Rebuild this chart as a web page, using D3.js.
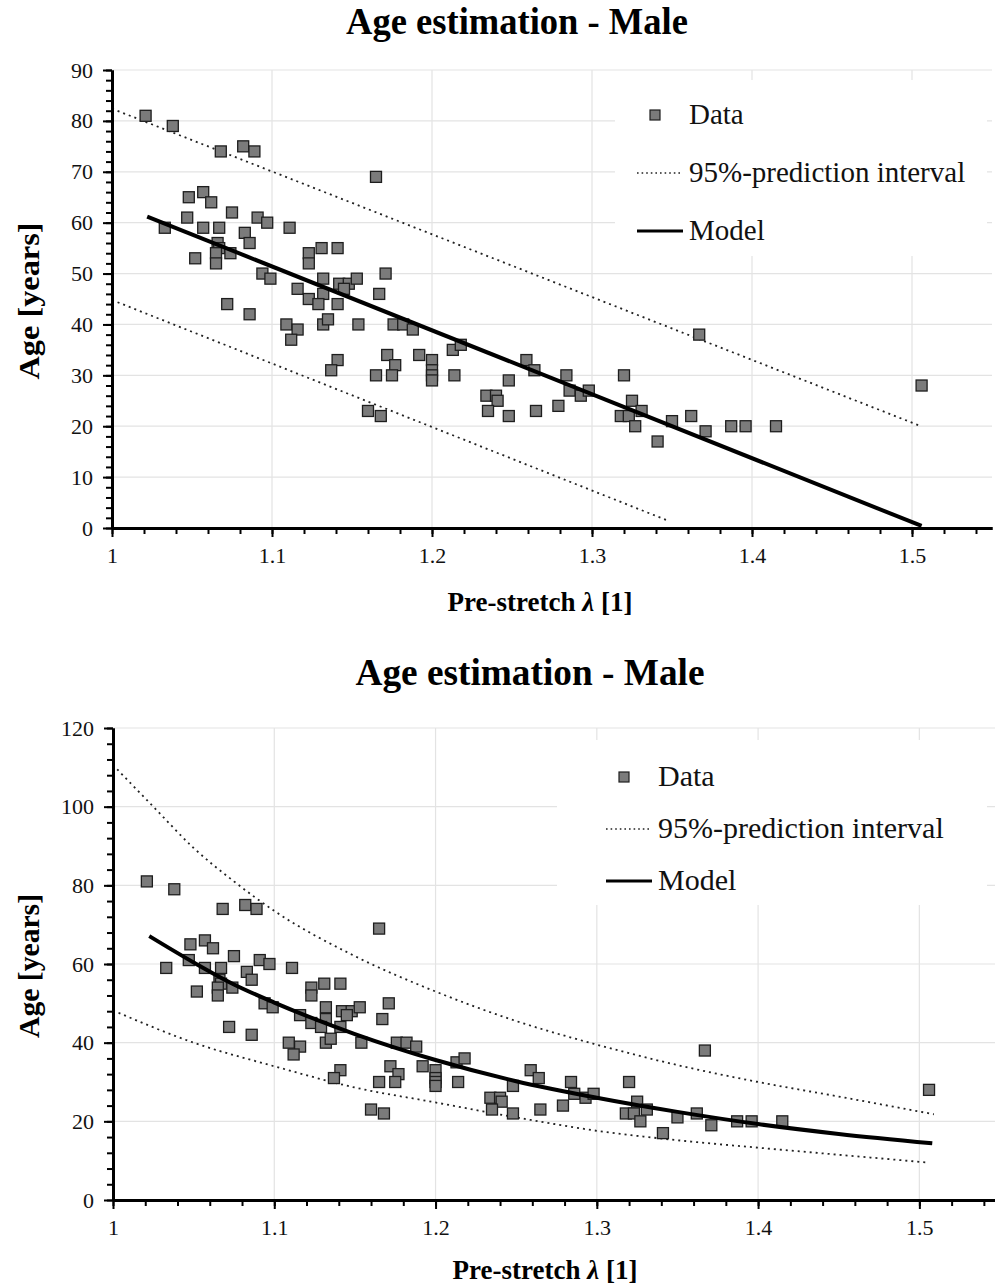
<!DOCTYPE html>
<html>
<head>
<meta charset="utf-8">
<script src="https://cdn.jsdelivr.net/npm/d3@7"></script>
<style>
  body { margin: 0; background: #fff; }
  svg { display: block; }
  text { font-family: "Liberation Serif", "Times New Roman", serif; }
</style>
</head>
<body>
<svg id="chart" width="995" height="1288"></svg>
<script>
// measured pre-stretch / age pairs (same subjects in both panels)
var stretch = [1.021, 1.038, 1.068, 1.082, 1.089, 1.165, 1.048, 1.057, 1.062, 1.047,
               1.075, 1.091, 1.097, 1.111, 1.033, 1.057, 1.067, 1.083, 1.086, 1.066,
               1.067, 1.074, 1.065, 1.052, 1.065, 1.123, 1.123, 1.131, 1.141, 1.094,
               1.099, 1.171, 1.116, 1.132, 1.142, 1.148, 1.153, 1.145, 1.132, 1.167,
               1.123, 1.129, 1.141, 1.072, 1.086, 1.109, 1.116, 1.112, 1.132, 1.135,
               1.154, 1.176, 1.182, 1.188, 1.141, 1.137, 1.172, 1.177, 1.165, 1.175,
               1.192, 1.2, 1.2, 1.2, 1.2, 1.160, 1.168, 1.213, 1.218, 1.214,
               1.248, 1.234, 1.240, 1.241, 1.235, 1.248, 1.265, 1.279, 1.259, 1.264,
               1.284, 1.286, 1.293, 1.298, 1.320, 1.325, 1.331, 1.318, 1.323, 1.327,
               1.341, 1.350, 1.362, 1.371, 1.387, 1.396, 1.415, 1.506, 1.367];
var age = [81, 79, 74, 75, 74, 69, 65, 66, 64, 61,
           62, 61, 60, 59, 59, 59, 59, 58, 56, 56,
           55, 54, 54, 53, 52, 54, 52, 55, 55, 50,
           49, 50, 47, 49, 48, 48, 49, 47, 46, 46,
           45, 44, 44, 44, 42, 40, 39, 37, 40, 41,
           40, 40, 40, 39, 33, 31, 34, 32, 30, 30,
           34, 33, 31, 30, 29, 23, 22, 35, 36, 30,
           29, 26, 26, 25, 23, 22, 23, 24, 33, 31,
           30, 27, 26, 27, 30, 25, 23, 22, 22, 20,
           17, 21, 22, 19, 20, 20, 20, 28, 38];

// linear model (top panel)
var linModel = [[1.022, 61.2], [1.506, 0.4]];
var linUpper = [[1.0, 82.4], [1.504, 20.2]];
var linLower = [[1.0, 44.8], [1.347, 1.5]];

// non-linear model (bottom panel)
var powModel = [[1.0225, 67.1], [1.05, 60.4], [1.075, 54.8], [1.1, 50.2], [1.15, 42.2], [1.2, 35.6],
                [1.25, 30.2], [1.3, 26.0], [1.35, 22.4], [1.4, 19.3], [1.45, 16.8], [1.508, 14.4]];
var powUpper = [[1.0, 110.6], [1.025, 100], [1.05, 89.5], [1.075, 81], [1.1, 73.5], [1.15, 62],
                [1.2, 53], [1.25, 45.5], [1.3, 39.5], [1.35, 34.3], [1.4, 30], [1.45, 26.3], [1.509, 21.8]];
var powLower = [[1.0, 48.2], [1.05, 40], [1.1, 34], [1.15, 28.6], [1.2, 24.8], [1.25, 21],
                [1.3, 17.6], [1.35, 15.2], [1.4, 13.3], [1.45, 11.5], [1.506, 9.5]];

var xMajor = [1, 1.1, 1.2, 1.3, 1.4, 1.5];
var xLabels = ["1", "1.1", "1.2", "1.3", "1.4", "1.5"];
var yMajorTop = [0, 10, 20, 30, 40, 50, 60, 70, 80, 90];
var yMajorBottom = [0, 20, 40, 60, 80, 100, 120];

var svg = d3.select("#chart");
svg.append("rect").attr("width", 995).attr("height", 1288).attr("fill", "#fff");

function panel(o) {
  var g = svg.append("g");
  var x = d3.scaleLinear().domain([1, 1.55]).range(o.xr);
  var y = d3.scaleLinear().domain([0, o.ymax]).range(o.yr);

  // gridlines
  g.selectAll(".vg").data(xMajor.slice(1)).enter().append("line")
    .attr("x1", d => x(d)).attr("x2", d => x(d))
    .attr("y1", o.yr[0]).attr("y2", o.yr[1])
    .attr("stroke", "#e3e3e3").attr("stroke-width", 1.2);
  g.selectAll(".hg").data(o.yMajor.slice(1)).enter().append("line")
    .attr("x1", o.xr[0]).attr("x2", o.xr[1])
    .attr("y1", d => y(d)).attr("y2", d => y(d))
    .attr("stroke", "#e3e3e3").attr("stroke-width", 1.2);

  // legend backing hides the grid
  g.append("rect").attr("x", o.box[0]).attr("y", o.box[1])
    .attr("width", o.box[2]).attr("height", o.box[3]).attr("fill", "#fff");

  var line = d3.line().x(d => x(d[0])).y(d => y(d[1])).curve(o.curve);
  [o.upper, o.lower].forEach(function (s) {
    g.append("path").datum(s).attr("d", line)
      .attr("fill", "none").attr("stroke", "#222")
      .attr("stroke-width", 1.8).attr("stroke-dasharray", "2,4");
  });

  g.selectAll(".pt").data(d3.range(age.length)).enter().append("rect")
    .attr("x", i => x(stretch[i]) - 5.5).attr("y", i => y(age[i]) - 5.5)
    .attr("width", 11).attr("height", 11)
    .attr("fill", "#7b7b7b").attr("stroke", "#1e1e1e").attr("stroke-width", 1.3);

  g.append("path").datum(o.model).attr("d", line)
    .attr("fill", "none").attr("stroke", "#000").attr("stroke-width", 4);

  // axes: minor then major
  var xMinor = d3.range(1, 1.5401, 0.02);
  g.append("g").attr("transform", "translate(0," + o.yr[0] + ")")
    .call(d3.axisBottom(x).tickValues(xMinor).tickSize(6).tickSizeOuter(0).tickFormat(""));
  var xa = g.append("g").attr("transform", "translate(0," + o.yr[0] + ")")
    .call(d3.axisBottom(x).tickValues(xMajor).tickSize(9).tickSizeOuter(0).tickPadding(10)
      .tickFormat((d, i) => xLabels[i]));
  var yMinor = d3.range(0, o.ymax + 0.001, o.yMinorStep);
  g.append("g").attr("transform", "translate(" + o.xr[0] + ",0)")
    .call(d3.axisLeft(y).tickValues(yMinor).tickSize(6).tickSizeOuter(0).tickFormat(""));
  var ya = g.append("g").attr("transform", "translate(" + o.xr[0] + ",0)")
    .call(d3.axisLeft(y).tickValues(o.yMajor).tickSize(9).tickSizeOuter(0).tickPadding(10));
  g.selectAll(".domain").attr("stroke", "#000").attr("stroke-width", 3);
  g.selectAll(".tick line").attr("stroke", "#000").attr("stroke-width", 2);
  [xa, ya].forEach(function (a) {
    a.selectAll("text").attr("font-family", "Liberation Serif, serif")
      .attr("font-size", 22).attr("fill", "#111");
  });

  // titles
  g.append("text").attr("x", o.titleX).attr("y", o.titleY)
    .attr("text-anchor", "middle").attr("font-weight", "bold").attr("font-size", 37)
    .attr("textLength", o.titleW).attr("lengthAdjust", "spacingAndGlyphs")
    .text("Age estimation - Male");
  var xl = g.append("text").attr("x", o.xLabX).attr("y", o.xLabY)
    .attr("text-anchor", "middle").attr("font-weight", "bold").attr("font-size", 27);
  xl.append("tspan").text("Pre-stretch ");
  xl.append("tspan").attr("font-style", "italic").text("λ");
  xl.append("tspan").text("  [1]");
  g.append("text").attr("transform", "translate(" + o.yLabX + "," + o.yLabY + ") rotate(-90)")
    .attr("text-anchor", "middle").attr("font-weight", "bold").attr("font-size", 29)
    .attr("textLength", o.yLabW).attr("lengthAdjust", "spacingAndGlyphs")
    .text("Age [years]");

  // legend
  var L = o.leg;
  g.append("rect").attr("x", L.x + 18 - 5).attr("y", L.y - 5).attr("width", 10).attr("height", 10)
    .attr("fill", "#7b7b7b").attr("stroke", "#1e1e1e").attr("stroke-width", 1.2);
  g.append("line").attr("x1", L.x).attr("x2", L.x + 46).attr("y1", L.y + L.dy).attr("y2", L.y + L.dy)
    .attr("stroke", "#222").attr("stroke-width", 1.3).attr("stroke-dasharray", "1.6,3");
  g.append("line").attr("x1", L.x).attr("x2", L.x + 46).attr("y1", L.y + 2 * L.dy).attr("y2", L.y + 2 * L.dy)
    .attr("stroke", "#000").attr("stroke-width", 3);
  ["Data", "95%-prediction interval", "Model"].forEach(function (t, i) {
    g.append("text").attr("x", L.tx).attr("y", L.y + i * L.dy + 9)
      .attr("font-size", L.fs).attr("fill", "#111").text(t);
  });
}

panel({
  xr: [112, 992], yr: [528, 70], ymax: 90, yMajor: yMajorTop, yMinorStep: 2,
  model: linModel, upper: linUpper, lower: linLower, curve: d3.curveLinear,
  box: [615, 80, 372, 176],
  titleX: 517, titleY: 34, titleW: 342,
  xLabX: 540, xLabY: 611, yLabX: 39, yLabY: 301, yLabW: 157,
  leg: { x: 637, y: 115, dy: 58, tx: 689, fs: 29 }
});

panel({
  xr: [113, 1000], yr: [1200, 728], ymax: 120, yMajor: yMajorBottom, yMinorStep: 4,
  model: powModel, upper: powUpper, lower: powLower, curve: d3.curveMonotoneX,
  box: [557, 740, 430, 165],
  titleX: 530, titleY: 685, titleW: 349,
  xLabX: 545, xLabY: 1279, yLabX: 39, yLabY: 966, yLabW: 144,
  leg: { x: 606, y: 777, dy: 52, tx: 658, fs: 30 }
});
</script>
</body>
</html>
